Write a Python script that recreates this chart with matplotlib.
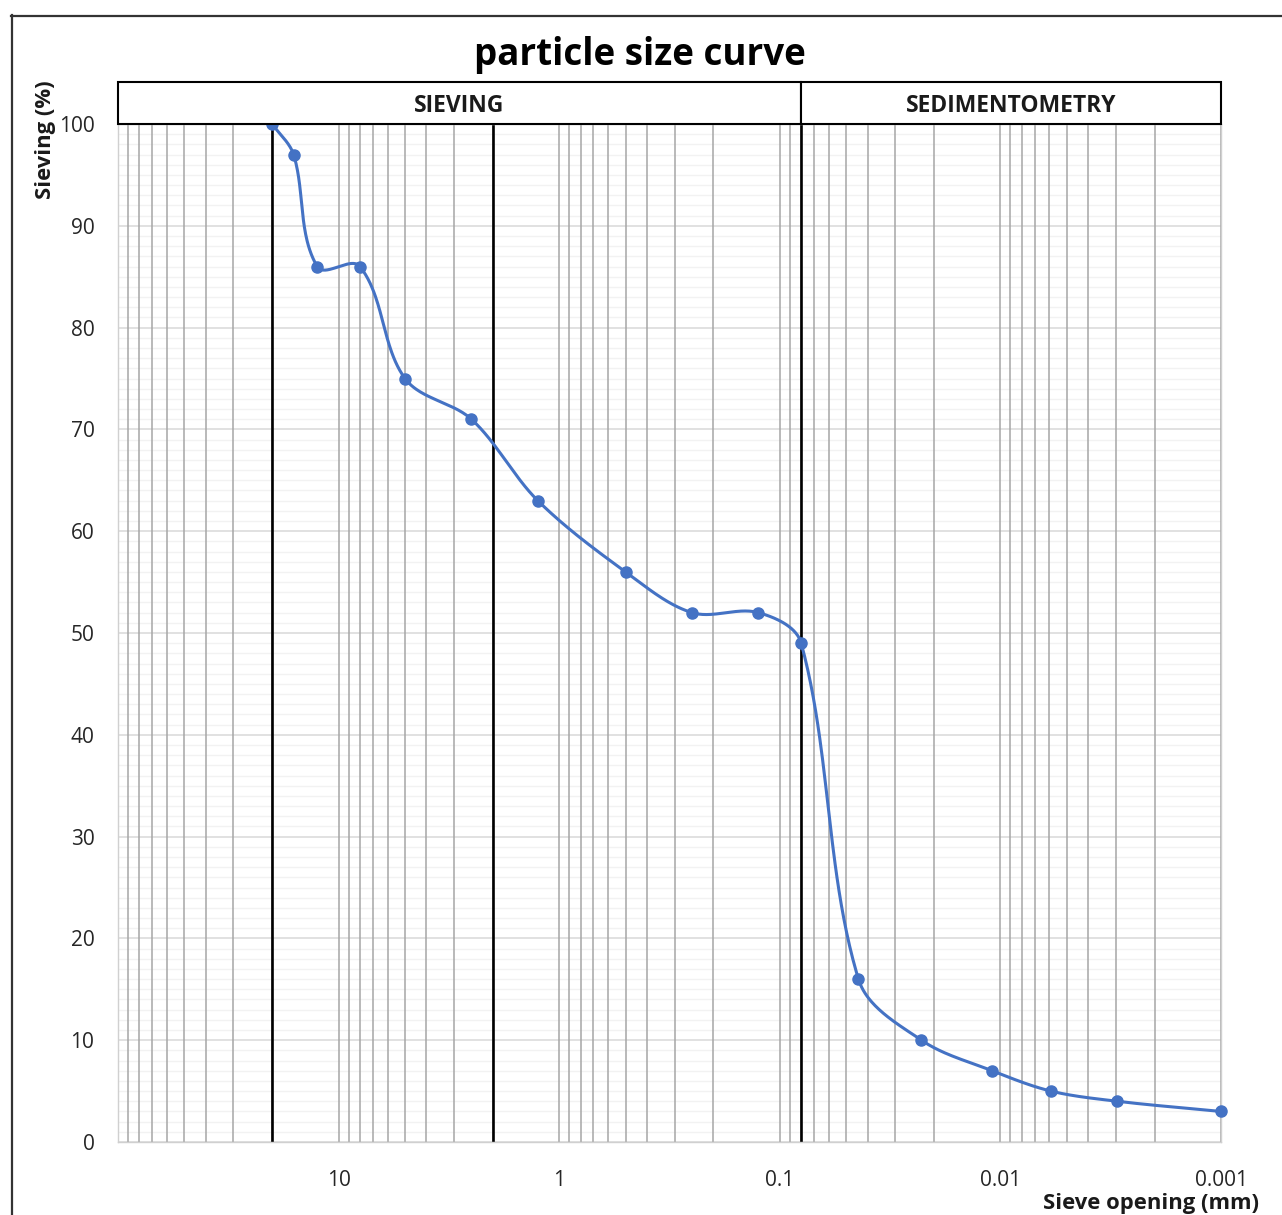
import numpy as np
import matplotlib
matplotlib.use("Agg")
import matplotlib.pyplot as plt
from matplotlib.patches import Rectangle
from matplotlib.lines import Line2D
from matplotlib.ticker import LogLocator, NullFormatter, MultipleLocator

plt.rcParams['font.family'] = ['Open Sans', 'DejaVu Sans']

# ---- data ----
sieve_mm = [20, 16, 12.5, 8, 5, 2.5, 1.25, 0.5, 0.25, 0.125, 0.08,
            0.044, 0.0228, 0.0109, 0.0059, 0.00295, 0.001]
passing_pct = [100, 97, 86, 86, 75, 71, 63, 56, 52, 52, 49,
               16, 10, 7, 5, 4, 3]
limit_lines_mm = [20, 2, 0.08]
xtick_vals = [10, 1, 0.1, 0.01, 0.001]
xtick_labels = ["10", "1", "0.1", "0.01", "0.001"]
sections = ["SIEVING", "SEDIMENTOMETRY"]
section_bounds_mm = [(100, 0.08), (0.08, 0.001)]

W, H = 1282, 1215
fig = plt.figure(figsize=(W / 100, H / 100), dpi=100)

L, R, T, B = 118, 1221, 124, 1142
ax = fig.add_axes([L / W, 1 - B / H, (R - L) / W, (B - T) / H])
ax.set_xscale('log')
ax.set_xlim(100, 0.001)
ax.set_ylim(0, 100)

# grid
ax.xaxis.set_minor_locator(LogLocator(base=10, subs=np.arange(2, 10)))
ax.xaxis.set_minor_formatter(NullFormatter())
ax.set_xticks(xtick_vals, labels=xtick_labels)
ax.yaxis.set_major_locator(MultipleLocator(10))
ax.yaxis.set_minor_locator(MultipleLocator(1))
ax.grid(True, axis='x', which='both', color='#a6a6a6', lw=1.1)
ax.grid(True, axis='y', which='major', color='#d9d9d9', lw=1.1)
ax.grid(True, axis='y', which='minor', color='#f2f2f2', lw=1.0)
ax.set_axisbelow(True)
ax.yaxis.set_zorder(0.3)
ax.xaxis.set_zorder(0.6)
ax.tick_params(axis='both', which='both', length=0)
ax.tick_params(axis='x', pad=20, labelsize=15, colors='#262626')
ax.tick_params(axis='y', pad=17, labelsize=15, colors='#262626')
for s in ax.spines.values():
    s.set_color('#d0d0d0')
    s.set_linewidth(1.0)

# limit lines
for v in limit_lines_mm:
    ax.axvline(v, color='black', lw=1.9, zorder=2)

# smoothed curve (Excel-like Bezier, tangent length scaled by segment length, in pixel space)
ppd = (R - L) / 5.0          # pixels per decade
ppu = (B - T) / 100.0        # pixels per percent
X = -np.log10(np.array(sieve_mm, dtype=float)) * ppd
Y = np.array(passing_pct, dtype=float) * ppu
P = np.column_stack([X, Y])
n = len(P)
tang = []
for i in range(n):
    a = P[i - 1] if i > 0 else P[i]
    b = P[i + 1] if i < n - 1 else P[i]
    d = b - a
    tang.append(d / np.linalg.norm(d))
tang = np.array(tang)
k = 0.33
t = np.linspace(0, 1, 50)[:, None]
segs = []
for i in range(n - 1):
    p1, p2 = P[i], P[i + 1]
    seglen = np.linalg.norm(p2 - p1)
    c1 = p1 + tang[i] * seglen * k
    c2 = p2 - tang[i + 1] * seglen * k
    seg = ((1 - t) ** 3) * p1 + 3 * ((1 - t) ** 2) * t * c1 + 3 * (1 - t) * t ** 2 * c2 + t ** 3 * p2
    segs.append(seg if i == 0 else seg[1:])
curve = np.vstack(segs)
ax.plot(10 ** (-curve[:, 0] / ppd), curve[:, 1] / ppu, color='#4472C4', lw=2.2,
        zorder=3, clip_on=False, solid_capstyle='round')
ax.plot(sieve_mm, passing_pct, 'o', color='#4472C4', ms=8, zorder=4, clip_on=False)

# section header boxes (data coords in x, axes coords in y)
trans = ax.get_xaxis_transform()
box_h = (124 - 82) / (B - T)
for name, (x0, x1) in zip(sections, section_bounds_mm):
    r = Rectangle((x0, 1.0), x1 - x0, box_h, transform=trans, fill=True,
                  facecolor='white', edgecolor='black', lw=1.5, clip_on=False, zorder=5)
    ax.add_patch(r)
    xm = 10 ** ((np.log10(x0) + np.log10(x1)) / 2)
    ax.text(xm, 1.0 + box_h / 2 - 3.5 / (B - T), name, transform=trans, ha='center',
            va='center', fontsize=16.5, fontweight='bold', color='#1a1a1a', zorder=6)

# title & axis labels
fig.text(640 / W, 1 - 55 / H, "particle size curve", ha='center', va='center',
         fontsize=26.5, fontweight='bold', color='black')
fig.text(45 / W, 1 - 140 / H, "Sieving (%)", ha='center', va='center', rotation=90,
         fontsize=15.8, fontweight='bold', color='#1a1a1a')
fig.text(1151 / W, 1 - 1203 / H, "Sieve opening (mm)", ha='center', va='center',
         fontsize=15.8, fontweight='bold', color='#1a1a1a')

# outer chart border
fig.add_artist(Line2D([11.5 / W, 11.5 / W], [0, 1 - 15 / H], transform=fig.transFigure,
                      color='#333333', lw=1.6))
fig.add_artist(Line2D([11 / W, 1.0], [1 - 15.5 / H, 1 - 15.5 / H], transform=fig.transFigure,
                      color='#333333', lw=1.6))

fig.savefig("out.png", dpi=100)
